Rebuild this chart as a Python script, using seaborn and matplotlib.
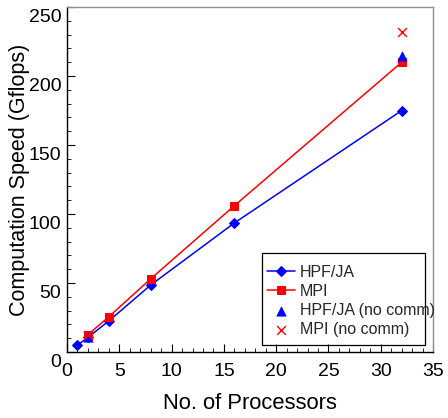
import matplotlib
matplotlib.use("Agg")
import matplotlib.pyplot as plt
import matplotlib.transforms as mtrans
from matplotlib.patches import Rectangle
from matplotlib.ticker import MultipleLocator
import seaborn as sns
import pandas as pd

# Data
procs = [1, 2, 4, 8, 16, 32]
hpf_ja = [5, 10.5, 22.5, 48.5, 93.5, 175]
mpi_procs = [2, 4, 8, 16, 32]
mpi = [12.5, 25.5, 53, 106, 210]
nocomm_procs = [2, 32]
hpf_nocomm = [11, 214.5]
mpi_nocomm = [12.5, 232]

sns.set_theme(style="white")
plt.rcParams['font.family'] = ['Liberation Sans', 'DejaVu Sans']

fig = plt.figure(figsize=(4.48, 4.18), dpi=100)
ax = fig.add_axes([0.1496, 0.158, 0.817, 0.825])

df_h = pd.DataFrame({"x": procs, "y": hpf_ja})
df_m = pd.DataFrame({"x": mpi_procs, "y": mpi})
df_hn = pd.DataFrame({"x": nocomm_procs, "y": hpf_nocomm})
df_mn = pd.DataFrame({"x": nocomm_procs, "y": mpi_nocomm})

sns.lineplot(data=df_h, x="x", y="y", ax=ax, color="#0000ff", marker="D",
             markersize=5, markeredgecolor="#0000ff", linewidth=1.1, label="HPF/JA")
sns.lineplot(data=df_m, x="x", y="y", ax=ax, color="#ff0000", marker="s",
             markersize=6, markeredgecolor="#ff0000", linewidth=1.1, label="MPI")
sns.scatterplot(data=df_hn, x="x", y="y", ax=ax, color="#0000ff", marker="^",
                s=45, edgecolor="#0000ff", linewidth=0.5, label="HPF/JA (no comm)", zorder=4)
sns.scatterplot(data=df_mn, x="x", y="y", ax=ax, color="#ff0000", marker="x",
                s=40, linewidth=1.0, label="MPI (no comm)", zorder=5)

ax.set_xlim(0, 35)
ax.set_ylim(0, 250)
ax.xaxis.set_major_locator(MultipleLocator(5))
ax.xaxis.set_minor_locator(MultipleLocator(1))
ax.yaxis.set_major_locator(MultipleLocator(50))
ax.yaxis.set_minor_locator(MultipleLocator(10))

ax.tick_params(axis="both", which="major", direction="in", length=6, width=0.8,
               color="black", labelsize=14, labelcolor="black")
ax.tick_params(axis="both", which="minor", direction="in", length=3, width=0.6,
               color="black")
ax.tick_params(axis="x", which="both", bottom=True, top=False, pad=8)
ax.tick_params(axis="y", which="both", left=True, right=False, pad=4)

for side in ["left", "bottom"]:
    ax.spines[side].set_color("black")
    ax.spines[side].set_linewidth(1.0)
for side in ["top", "right"]:
    ax.spines[side].set_color("#909090")
    ax.spines[side].set_linewidth(1.0)

# Shift y tick labels downward as in the reference
off = mtrans.ScaledTranslation(0, -6 / 72, fig.dpi_scale_trans)
for lab in ax.get_yticklabels():
    lab.set_transform(lab.get_transform() + off)

ax.set_xlabel("No. of Processors", fontsize=15.8, color="black", labelpad=9)
ax.set_ylabel("Computation Speed (Gflops)", fontsize=15.5, color="black", labelpad=-1)

# Legend: text overflows a narrower box, as in the reference
leg = ax.legend(loc="upper left", bbox_to_anchor=(267 / 448, 1 - 265 / 418),
                bbox_transform=fig.transFigure, fontsize=11.5, frameon=False,
                handlelength=1.75, handletextpad=0.3, borderpad=0, borderaxespad=0,
                labelspacing=0.25)
box = Rectangle((262 / 448, 1 - 345 / 418), 163 / 448, 92 / 418,
                transform=fig.transFigure, fill=False, edgecolor="black",
                linewidth=0.9, zorder=6)
fig.patches.append(box)

fig.savefig("out.png", dpi=100)
